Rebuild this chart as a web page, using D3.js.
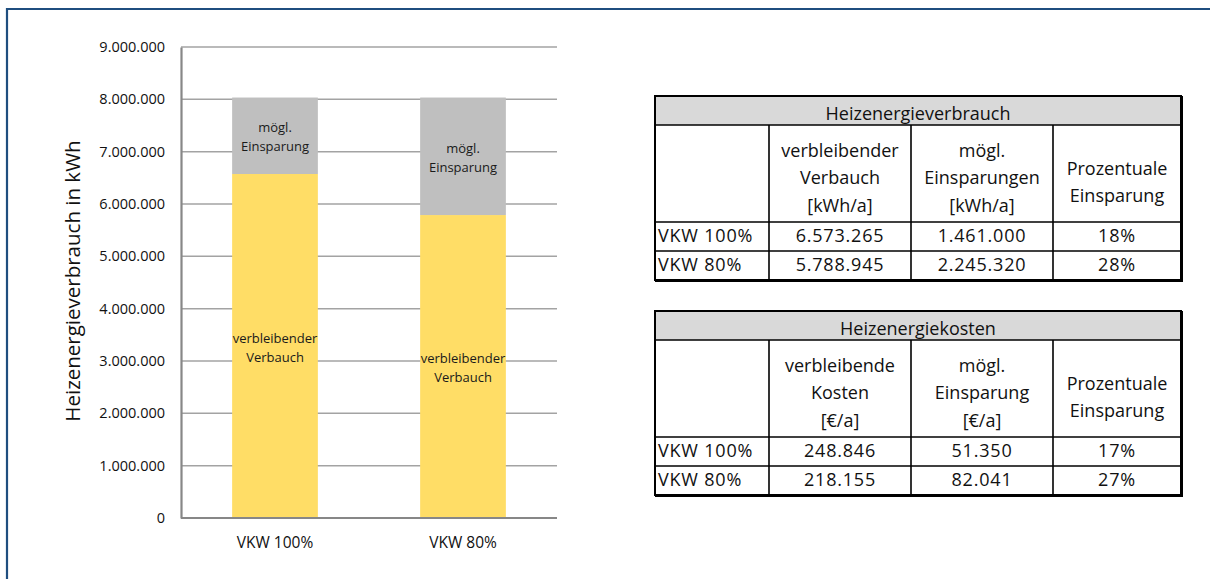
<!DOCTYPE html>
<html>
<head>
<meta charset="utf-8">
<script src="https://cdn.jsdelivr.net/npm/d3@7"></script>
<style>
  html, body { margin: 0; padding: 0; background: #fff; }
  svg { display: block; }
  text { font-family: "Open Sans", "Noto Sans", sans-serif; }
</style>
</head>
<body>
<svg id="chart" width="1210" height="579"></svg>
<script>
// ---------------- DATA ----------------
const categories = ["VKW 100%", "VKW 80%"];
const verbleibend = [6573265, 5788945];
const einsparung = [1461000, 2245320];
const yTicks = [0, 1000000, 2000000, 3000000, 4000000, 5000000, 6000000, 7000000, 8000000, 9000000];
const yTitle = "Heizenergieverbrauch in kWh";
const segLabels = [["verbleibender", "Verbauch"], ["mögl.", "Einsparung"]];

const table1Title = "Heizenergieverbrauch";
const table1Heads = [[], ["verbleibender", "Verbauch", "[kWh/a]"], ["mögl.", "Einsparungen", "[kWh/a]"], ["Prozentuale", "Einsparung"]];
const table1Rows = [["VKW 100%", "6.573.265", "1.461.000", "18%"], ["VKW 80%", "5.788.945", "2.245.320", "28%"]];

const table2Title = "Heizenergiekosten";
const table2Heads = [[], ["verbleibende", "Kosten", "[€/a]"], ["mögl.", "Einsparung", "[€/a]"], ["Prozentuale", "Einsparung"]];
const table2Rows = [["VKW 100%", "248.846", "51.350", "17%"], ["VKW 80%", "218.155", "82.041", "27%"]];

// ---------------- LAYOUT ----------------
const svg = d3.select("#chart");
const locale = d3.formatLocale({ decimal: ",", thousands: ".", grouping: [3], currency: ["", "€"] });
const fmt = locale.format(",d");

// outer frame (top + left blue lines)
svg.append("path")
  .attr("d", "M7,579 V9 H1210")
  .attr("fill", "none")
  .attr("stroke", "#1f4e7f")
  .attr("stroke-width", 2.2);

const plot = { left: 181, right: 557, top: 47, bottom: 518 };
const x = d3.scaleBand().domain(categories).range([plot.left, plot.right]).paddingInner(0.544).paddingOuter(0.272);
const y = d3.scaleLinear().domain([0, 9000000]).range([plot.bottom, plot.top]);

// gridlines
svg.append("g")
  .selectAll("line").data(yTicks.filter(d => d > 0)).join("line")
  .attr("x1", plot.left).attr("x2", plot.right)
  .attr("y1", d => y(d)).attr("y2", d => y(d))
  .attr("stroke", "#a3a3a3").attr("stroke-width", 1.5);

// stacked bars
const stackData = categories.map((c, i) => ({ cat: c, v: verbleibend[i], e: einsparung[i] }));
const stack = d3.stack().keys(["v", "e"])(stackData);
const colors = { v: "#ffdd66", e: "#bfbfbf" };

stack.forEach((layer, li) => {
  const g = svg.append("g");
  g.selectAll("rect").data(layer).join("rect")
    .attr("x", d => x(d.data.cat))
    .attr("width", x.bandwidth())
    .attr("y", d => y(d[1]))
    .attr("height", d => y(d[0]) - y(d[1]))
    .attr("fill", colors[layer.key]);
  layer.forEach(d => {
    const cy = (y(d[0]) + y(d[1])) / 2 + 1.5;
    const lines = segLabels[li];
    const lh = 19;
    lines.forEach((t, k) => {
      g.append("text")
        .attr("x", x(d.data.cat) + x.bandwidth() / 2)
        .attr("y", cy + (k - (lines.length - 1) / 2) * lh)
        .attr("dy", "0.35em")
        .attr("text-anchor", "middle")
        .attr("font-size", 13)
        .attr("fill", "#1a1a1a")
        .text(t);
    });
  });
});

// axes
const yAxis = d3.axisLeft(y).tickValues(yTicks).tickFormat(fmt).tickSize(0).tickPadding(16);
const gy = svg.append("g").attr("transform", `translate(${plot.left},0)`).call(yAxis);
gy.select(".domain").attr("stroke", "#878787").attr("stroke-width", 2.2);
gy.selectAll("text").attr("font-size", 14.5).attr("fill", "#111")
  .attr("font-family", "'Open Sans', sans-serif");

const xAxis = d3.axisBottom(x).tickSize(0).tickPadding(19);
const gx = svg.append("g").attr("transform", `translate(0,${plot.bottom})`).call(xAxis);
gx.select(".domain").attr("stroke", "#878787").attr("stroke-width", 2.2)
  .attr("d", `M${plot.left},0H${plot.right}`);
gx.selectAll("text").attr("font-size", 15.5).attr("fill", "#111")
  .attr("font-family", "'Open Sans', sans-serif");

svg.append("text")
  .attr("transform", `translate(80,${281}) rotate(-90)`)
  .attr("text-anchor", "middle")
  .attr("font-size", 20.5)
  .attr("fill", "#111")
  .text(yTitle);

// ---------------- TABLES ----------------
const colX = [655, 769, 911, 1053, 1181];
function drawTable(top, title, heads, rows) {
  const g = svg.append("g");
  const hTitle = 29, hHead = 97, hRow = 29;
  const yHead = top + hTitle, yRows = yHead + hHead;
  const bottom = yRows + hRow * rows.length;
  const L = colX[0], R = colX[colX.length - 1];
  g.append("rect").attr("x", L).attr("y", top).attr("width", R - L).attr("height", hTitle).attr("fill", "#d9d9d9");
  const hl = [yHead, yRows, yRows + hRow];
  g.selectAll("line.h").data(hl).join("line")
    .attr("x1", L).attr("x2", R).attr("y1", d => d).attr("y2", d => d)
    .attr("stroke", "#000").attr("stroke-width", 1.6);
  g.selectAll("line.v").data(colX.slice(1, -1)).join("line")
    .attr("x1", d => d).attr("x2", d => d).attr("y1", yHead).attr("y2", bottom)
    .attr("stroke", "#000").attr("stroke-width", 1.6);
  g.append("rect").attr("x", L).attr("y", top).attr("width", R - L).attr("height", bottom - top)
    .attr("fill", "none").attr("stroke", "#000").attr("stroke-width", 2);
  g.append("path").attr("d", `M${R + 1},${top} V${bottom + 1} H${L}`)
    .attr("fill", "none").attr("stroke", "#000").attr("stroke-width", 2);

  const fs = 18;
  g.append("text").attr("x", (L + R) / 2).attr("y", top + 24)
    .attr("text-anchor", "middle").attr("font-size", fs).attr("fill", "#111").text(title);

  heads.forEach((lines, ci) => {
    const cx = (colX[ci] + colX[ci + 1]) / 2;
    const lh = 27.5;
    const base = lines.length === 3 ? yHead + 31.5 : yHead + 49.5;
    lines.forEach((t, k) => {
      g.append("text").attr("x", cx).attr("y", base + k * lh)
        .attr("text-anchor", "middle").attr("font-size", fs).attr("fill", "#111").text(t);
    });
  });

  rows.forEach((r, ri) => {
    const by = yRows + ri * hRow + 20;
    r.forEach((t, ci) => {
      const isLabel = ci === 0;
      g.append("text")
        .attr("x", isLabel ? colX[0] + 3 : (colX[ci] + colX[ci + 1]) / 2)
        .attr("y", by)
        .attr("text-anchor", isLabel ? "start" : "middle")
        .attr("letter-spacing", 0.8)
        .attr("font-size", fs).attr("fill", "#111").text(t);
    });
  });
}
drawTable(96, table1Title, table1Heads, table1Rows);
drawTable(311, table2Title, table2Heads, table2Rows);
</script>
</body>
</html>
